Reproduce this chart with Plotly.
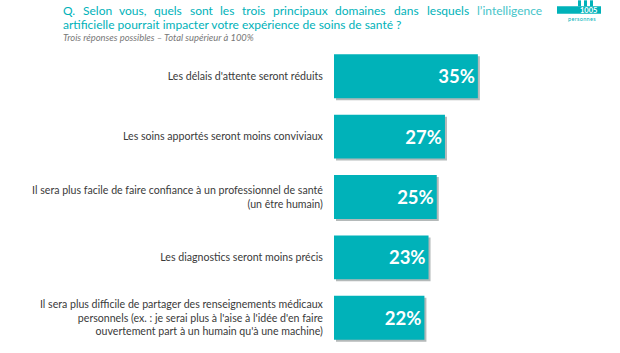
import plotly.graph_objects as go

categories = [
    "Les délais d'attente seront réduits",
    "Les soins apportés seront moins conviviaux",
    "Il sera plus facile de faire confiance à un professionnel de santé<br>(un être humain)",
    "Les diagnostics seront moins précis",
    "Il sera plus difficile de partager des renseignements médicaux<br>personnels (ex. : je serai plus à l'aise à l'idée d'en faire<br>ouvertement part à un humain qu'à une machine)",
]
values = [35, 27, 25, 23, 22]
title_words = ["Q.", "Selon", "vous,", "quels", "sont", "les", "trois", "principaux", "domaines", "dans", "lesquels", "l’intelligence"]
title_line2 = "artificielle pourrait impacter votre expérience de soins de santé ?"
subtitle = "Trois réponses possibles – Total supérieur à 100%"
badge_number = "1005"
badge_label = "personnes"

W, H = 620, 353
TEAL = "#00b2b9"
FONT = "Lato, 'Open Sans', sans-serif"
S = 2
L, T = 334, 45.75
pitch = 60.5
ph = pitch * 5 + S
pw = 206 + S
PPU = 4.11
xr = [0, (pw - S) / PPU]


def px(x):
    return (x - L) / pw


def py(y):
    return 1 - (y - T) / ph


fig = go.Figure()
fig.add_trace(go.Bar(y=categories, x=values, orientation="h", xaxis="x", yaxis="y",
                     marker=dict(color="#b4b9b9", line_width=0), hoverinfo="skip", showlegend=False))
fig.add_trace(go.Bar(y=categories, x=values, orientation="h", xaxis="x2", yaxis="y2",
                     marker=dict(color=TEAL, line_width=0),
                     text=[f"{v}%" for v in values], textposition="inside", insidetextanchor="end",
                     textangle=0, constraintext="none",
                     textfont=dict(family=FONT, size=18.5, color="white", weight="bold"),
                     showlegend=False))
B = H - T - ph
Rm = W - L - pw
dx = S / pw
dy = S / ph
word_x = [62, 82, 118, 153, 189, 219, 241, 272, 334, 393, 426, 476]
anns = [
    dict(x=px(62), y=py(24), text=title_line2, font=dict(size=12, color=TEAL)),
    dict(x=px(62), y=py(37), text=f"<i>{subtitle}</i>", font=dict(size=9.4, color="#777777")),
    dict(x=px(588), y=py(9.8), text=f"<b>{badge_number}</b>", font=dict(size=7.5, color="white"), xanchor="center"),
    dict(x=px(582), y=py(18.5), text="\u200a".join(badge_label), font=dict(size=5.5, color=TEAL), xanchor="center"),
]
for i, (w, x) in enumerate(zip(title_words, word_x)):
    anns.append(dict(x=px(x), y=py(10), text=w,
                     font=dict(size=12, color="#45c4c9" if i == len(title_words) - 1 else TEAL)))
for a in anns:
    a.setdefault("xanchor", "left")
    a["font"]["family"] = FONT
    fig.add_annotation(xref="paper", yref="paper", yanchor="middle", showarrow=False, borderpad=0, **a)

shapes = [dict(type="rect", xref="paper", yref="paper", x0=px(557), x1=px(601), y0=py(13.5), y1=py(6),
               fillcolor=TEAL, line_width=0, layer="below")]
for lx in (578, 584, 590):
    shapes.append(dict(type="rect", xref="paper", yref="paper", x0=px(lx), x1=px(lx + 3), y0=py(6), y1=py(0),
                       fillcolor=TEAL, line_width=0, layer="below"))

fig.update_layout(
    width=W, height=H, autosize=False, template=None,
    margin=dict(l=L, r=Rm, t=T, b=B, pad=0),
    paper_bgcolor="white", plot_bgcolor="rgba(0,0,0,0)", bargap=0.273,
    xaxis=dict(range=xr, visible=False, fixedrange=True, domain=[dx, 1], anchor="y"),
    yaxis=dict(autorange="reversed", visible=False, fixedrange=True, domain=[0, 1 - dy], anchor="x"),
    xaxis2=dict(range=xr, visible=False, fixedrange=True, domain=[0, 1 - dx], anchor="y2"),
    yaxis2=dict(autorange="reversed", fixedrange=True, domain=[dy, 1], anchor="x2",
                ticks="outside", ticklen=8, tickcolor="rgba(0,0,0,0)",
                showline=False, showgrid=False, zeroline=False,
                tickfont=dict(family=FONT, size=10.6, color="#3a3a3a")),
    shapes=shapes,
)
fig.write_html("out.html", config={"displayModeBar": False},
               post_script="document.body.style.margin='0';document.body.style.overflow='hidden';")
